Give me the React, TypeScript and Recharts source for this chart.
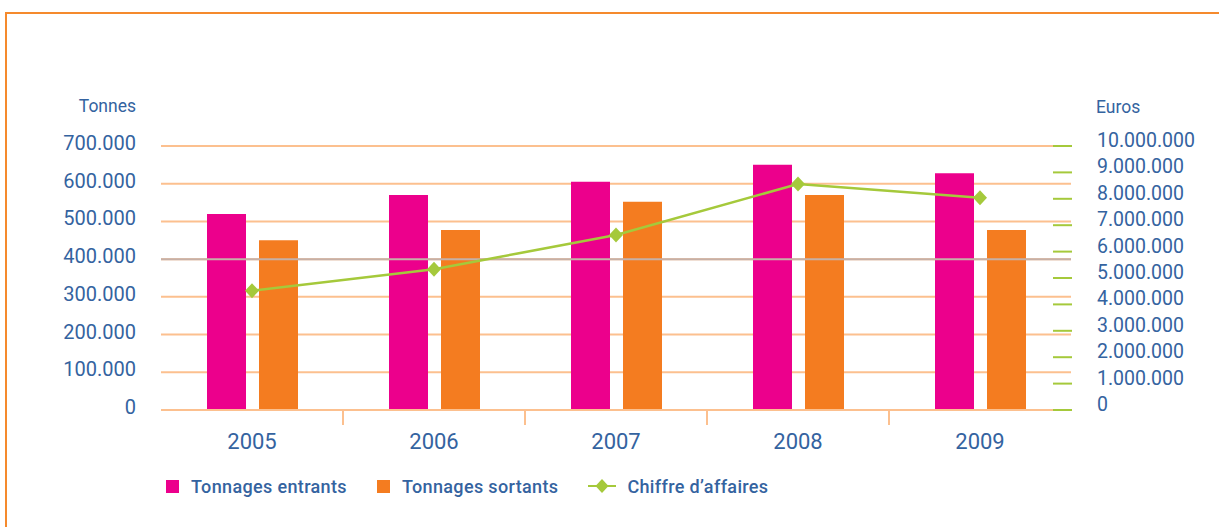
import { Bar, CartesianGrid, ComposedChart, Line, ReferenceLine, XAxis, YAxis } from 'recharts';

const years = ['2005', '2006', '2007', '2008', '2009'];
const tonnagesEntrants = [520000, 570000, 605000, 650000, 628000];
const tonnagesSortants = [450000, 477000, 552000, 570000, 477000];
const chiffreAffaires = [4520000, 5330000, 6630000, 8560000, 8040000];
const tonnesTicks = [0, 100000, 200000, 300000, 400000, 500000, 600000, 700000];
const eurosTicks = [0, 1000000, 2000000, 3000000, 4000000, 5000000, 6000000, 7000000, 8000000, 9000000, 10000000];

const PINK = '#ec008c';
const ORANGE = '#f47c20';
const GREEN = '#a5c93b';
const GRID = '#fcc08f';
const BLUE = '#3463a0';

const W = 1219;
const H = 527;
const MARGIN = { top: 146, right: 0, left: 61, bottom: 77 };
const LEFT_W = 100;
const RIGHT_W = 148;
const PLOT_W = W - MARGIN.left - LEFT_W - RIGHT_W;

const data = years.map((year, i) => ({
  year,
  entrants: tonnagesEntrants[i],
  sortants: tonnagesSortants[i],
  chiffre: chiffreAffaires[i],
}));

// points comme séparateur de milliers
const fmt = (n: number) => String(n).replace(/\B(?=(\d{3})+(?!\d))/g, '.');

const XTick = (props: any) => {
  const { x, y, payload, index } = props;
  const half = PLOT_W / years.length / 2;
  return (
    <g>
      <text x={x} y={y + 39} textAnchor="middle" fontSize={22} fill={BLUE}>
        {payload.value}
      </text>
      {index < years.length - 1 && (
        <line x1={x + half} x2={x + half} y1={y} y2={y + 15} stroke={GRID} strokeWidth={2} />
      )}
    </g>
  );
};

const LeftTick = (props: any) => {
  const { x, y, payload } = props;
  return (
    <text x={x} y={y + 4} textAnchor="end" fontSize={20} fill={BLUE}>
      {fmt(payload.value)}
    </text>
  );
};

const RightTick = (props: any) => {
  const { x, y, payload } = props;
  return (
    <g>
      <line x1={x - 18} x2={x + 1} y1={y} y2={y} stroke={GREEN} strokeWidth={2} />
      <text x={x + 26} y={y + 1} textAnchor="start" fontSize={19.5} fill={BLUE}>
        {fmt(payload.value)}
      </text>
    </g>
  );
};

const Diamond = (props: any) => {
  const { cx, cy } = props;
  if (cx == null || cy == null) return null;
  const r = 7.5;
  return (
    <polygon
      points={`${cx},${cy - r} ${cx + r - 0.5},${cy} ${cx},${cy + r} ${cx - r + 0.5},${cy}`}
      fill={GREEN}
    />
  );
};

const legendItems = [
  { label: 'Tonnages entrants', color: PINK, kind: 'square' },
  { label: 'Tonnages sortants', color: ORANGE, kind: 'square' },
  { label: 'Chiffre d\u2019affaires', color: GREEN, kind: 'line' },
];

export default function App() {
  return (
    <div
      style={{
        position: 'absolute',
        left: 0,
        top: 0,
        width: W,
        height: H,
        overflow: 'hidden',
        background: '#fff',
        fontFamily: 'Roboto, sans-serif',
      }}
    >
      <div
        style={{
          position: 'absolute',
          left: 5,
          top: 12,
          width: 1400,
          height: 700,
          border: '2px solid #f58a2d',
        }}
      />
      <div style={{ position: 'absolute', left: 0, top: 0 }}>
        <ComposedChart width={W} height={H} data={data} margin={MARGIN} barGap={13}>
          <CartesianGrid yAxisId="left" vertical={false} stroke={GRID} strokeWidth={2} />
          <XAxis
            dataKey="year"
            height={40}
            axisLine={{ stroke: GRID, strokeWidth: 2 }}
            tickLine={false}
            tickSize={0}
            tickMargin={0}
            interval={0}
            tick={<XTick />}
          />
          <YAxis
            yAxisId="left"
            width={LEFT_W}
            domain={[0, 700000]}
            ticks={tonnesTicks}
            interval={0}
            axisLine={false}
            tickLine={false}
            tickSize={0}
            tickMargin={25}
            tick={<LeftTick />}
            label={{
              value: 'Tonnes',
              content: (p: any) => (
                <text
                  x={p.viewBox.x + p.viewBox.width - 25}
                  y={p.viewBox.y - 34}
                  textAnchor="end"
                  fontSize={17.5}
                  fill={BLUE}
                >
                  Tonnes
                </text>
              ),
            }}
          />
          <YAxis
            yAxisId="right"
            orientation="right"
            width={RIGHT_W}
            domain={[0, 10000000]}
            ticks={eurosTicks}
            interval={0}
            axisLine={false}
            tickLine={false}
            tickSize={0}
            tickMargin={0}
            tick={<RightTick />}
            label={{
              value: 'Euros',
              content: (p: any) => (
                <text
                  x={p.viewBox.x + 25}
                  y={p.viewBox.y - 33}
                  textAnchor="start"
                  fontSize={17.5}
                  fill={BLUE}
                >
                  Euros
                </text>
              ),
            }}
          />
          <ReferenceLine yAxisId="left" y={400000} stroke="#c6b0a7" strokeWidth={2} />
          <Bar yAxisId="left" dataKey="entrants" name="Tonnages entrants" fill={PINK} barSize={39} isAnimationActive={false} />
          <Bar yAxisId="left" dataKey="sortants" name="Tonnages sortants" fill={ORANGE} barSize={39} isAnimationActive={false} />
          <Line
            yAxisId="right"
            type="linear"
            dataKey="chiffre"
            name="Chiffre d'affaires"
            stroke={GREEN}
            strokeWidth={2.5}
            dot={<Diamond />}
            activeDot={false}
            isAnimationActive={false}
          />
        </ComposedChart>
      </div>
      <div
        style={{
          position: 'absolute',
          left: 166,
          top: 475,
          height: 22,
          display: 'flex',
          alignItems: 'center',
          color: BLUE,
          fontSize: 18,
          fontWeight: 500,
          letterSpacing: 0.35,
        }}
      >
        {legendItems.map((item) => (
          <div key={item.label} style={{ display: 'flex', alignItems: 'center', marginRight: 30 }}>
            {item.kind === 'square' ? (
              <span style={{ width: 13, height: 13, background: item.color, marginRight: 12 }} />
            ) : (
              <svg width={28} height={16} style={{ marginRight: 11 }}>
                <line x1={0} x2={28} y1={8} y2={8} stroke={item.color} strokeWidth={2} />
                <polygon points="14,1 20.5,8 14,15 7.5,8" fill={item.color} />
              </svg>
            )}
            <span>{item.label}</span>
          </div>
        ))}
      </div>
    </div>
  );
}
